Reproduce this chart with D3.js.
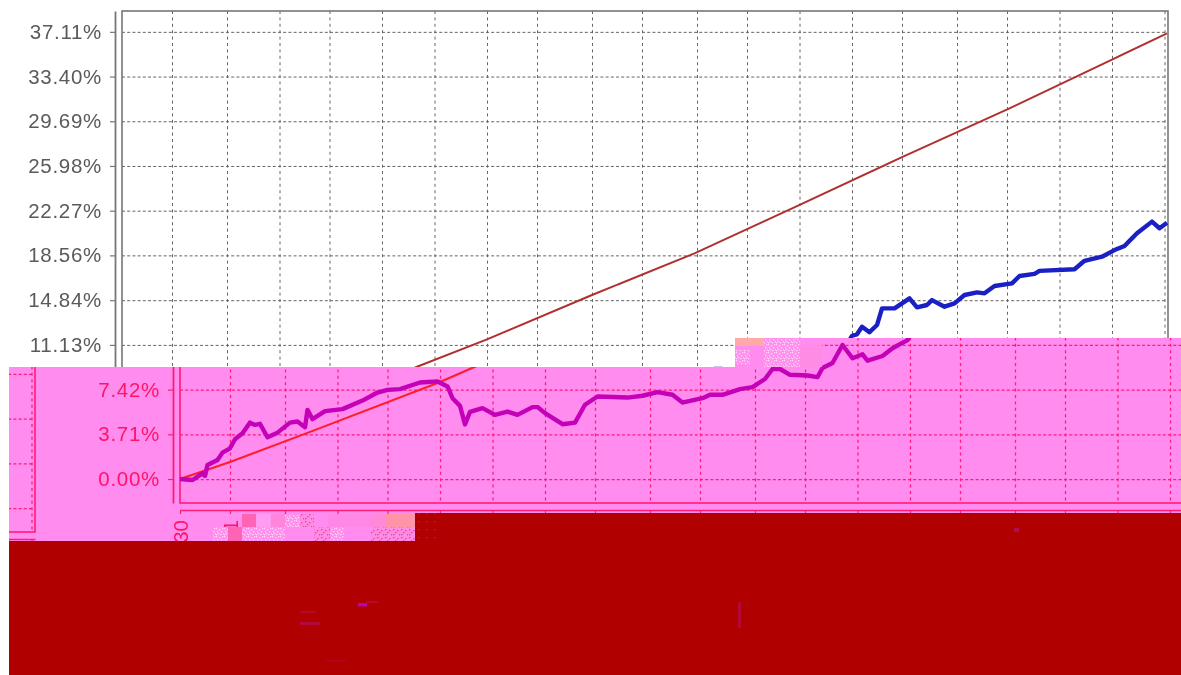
<!DOCTYPE html>
<html>
<head>
<meta charset="utf-8">
<script src="https://cdn.jsdelivr.net/npm/d3@7"></script>
<style>
html,body{margin:0;padding:0;background:#fff;overflow:hidden}
svg{display:block}
text{font-family:"Liberation Sans",Arial,sans-serif}
.soft{filter:blur(0.55px)}
</style>
</head>
<body>
<svg id="chart" width="1181" height="675"></svg>
<script>
// ---- data (trading-day index, cumulative return in %) ----
const portfolioDays = [0,5,9,10,11,15,17,20,22,25,28,30,32,35,39,44,47,50,51,53,58,65,73,79,83,88,96,103,107,109,112,114,116,121,126,131,135,141,143,146,153,158,162,167,179,185,191,197,201,209,212,217,224,229,234,237,240,244,251,255,257,261,265,269,273,275,281,285,291,292,294,296,299,302,304,309,315,318,322,324,329,333,337,342,345,349,356,359,365,367,381,385,392,397,401,406,412,415,418];
const portfolioReturn = [0,-0.08,0.47,0.25,1.16,1.58,2.19,2.55,3.30,3.80,4.68,4.49,4.58,3.47,3.85,4.68,4.77,4.30,5.74,4.97,5.63,5.80,6.51,7.18,7.40,7.46,8.01,8.10,7.68,6.71,6.07,4.53,5.57,5.88,5.32,5.60,5.32,5.97,5.97,5.47,4.55,4.68,6.16,6.85,6.76,6.91,7.21,6.99,6.35,6.71,6.99,6.99,7.46,7.63,8.30,9.13,9.13,8.65,8.59,8.46,9.21,9.63,11.12,10.02,10.35,9.82,10.21,10.85,11.53,11.89,12.01,12.64,12.18,12.78,14.16,14.16,14.99,14.25,14.44,14.85,14.30,14.58,15.27,15.49,15.41,16.02,16.24,16.85,17.02,17.27,17.41,18.11,18.45,19.00,19.34,20.39,21.36,20.81,21.27];
const benchmarkDays = [0,20,51,104,118,146,188,229,270,312,355,396,418];
const benchmarkReturn = [0,1.41,3.83,8.05,9.32,11.59,15.27,18.73,22.65,26.72,30.76,34.81,36.99];
const yTicks = [0,3.71,7.42,11.13,14.84,18.56,22.27,25.98,29.69,33.40,37.11];
const xTickDays = [0,20,42,63,83,104,125,146,166,188,208,230,250,271,292,312,334,354,375,396,417];
const xTickLabels = ["30","1"];

const svg = d3.select("#chart");
const x = d3.scaleLinear().domain([0,418.4]).range([122,1168]);
const y = d3.scaleLinear().domain([-1.99,38.84]).range([503,11]);

const normal = {axis:"#777", grid:"#666", gridW:1, text:"#5a5a5a", bench:"#b03030", main:"#1a20c4"};
const pinked = {axis:"#ff1c78", grid:"#ff1c78", gridW:1.25, text:"#ff1464", bench:"#ff1c2c", main:"#c400b8"};

function drawPlot(g, c, showY, showX) {
  // grid
  g.append("g").attr("transform","translate(122,0)")
    .call(d3.axisLeft(y).tickValues(yTicks).tickSize(-1043).tickFormat(""))
    .call(a=>a.select(".domain").remove())
    .selectAll("line").attr("stroke",c.grid).attr("stroke-width",c.gridW).attr("stroke-dasharray","3 2.2");
  g.append("g").attr("transform","translate(0,11)")
    .call(d3.axisBottom(x).tickValues(xTickDays.slice(1)).tickSize(492).tickFormat(""))
    .call(a=>a.select(".domain").remove())
    .selectAll("line").attr("stroke",c.grid).attr("stroke-width",c.gridW).attr("stroke-dasharray","3 3.4");
  // frame
  g.append("rect").attr("x",x(0)).attr("y",y.range()[1])
    .attr("width",x.range()[1]-x.range()[0]).attr("height",y.range()[0]-y.range()[1])
    .attr("fill","none").attr("stroke",c.axis).attr("stroke-width",1.6);
  // y axis: only the labels that can be seen in this layer get text
  const ya = g.append("g").attr("transform","translate(115,0)")
    .call(d3.axisLeft(y).tickValues(yTicks).tickSize(5).tickSizeOuter(0).tickPadding(8)
      .tickFormat(d=>showY(d)?d.toFixed(2)+"%":""));
  ya.select(".domain").attr("stroke",c.axis).attr("stroke-width",1.8);
  ya.selectAll("line").attr("stroke",c.axis).attr("stroke-width",1.2);
  ya.selectAll("text").attr("fill",c.text).style("font-size","20.5px").style("letter-spacing","0.7px");
  // x axis
  const xa = g.append("g").attr("transform","translate(0,510)")
    .call(d3.axisBottom(x).tickValues(xTickDays).tickSize(4).tickSizeOuter(0)
      .tickFormat((d,i)=>showX?(xTickLabels[i]||""):""));
  xa.select(".domain").attr("stroke",c.axis).attr("stroke-width",1.6);
  xa.selectAll("line").attr("stroke",c.axis).attr("stroke-width",1.2);
  xa.selectAll("text").attr("fill",c.text).style("font-size","20.5px")
    .attr("text-anchor","end").attr("x",0).attr("y",0).attr("dy","0.36em")
    .attr("transform","translate(0,10) rotate(-90)");
  // lines
  const line = d3.line().x(d=>x(d[0])).y(d=>y(d[1]));
  g.append("path").datum(d3.zip(benchmarkDays,benchmarkReturn)).attr("d",line)
    .attr("fill","none").attr("stroke",c.bench).attr("stroke-width",2);
  g.append("path").datum(d3.zip(portfolioDays,portfolioReturn)).attr("d",line)
    .attr("fill","none").attr("stroke",c.main).attr("stroke-width",4.4).attr("stroke-linejoin","round");
}

const defs = svg.append("defs");
const clipBand = defs.append("clipPath").attr("id","bandClip");
clipBand.append("rect").attr("x",36).attr("y",367).attr("width",1145).attr("height",174);
clipBand.append("rect").attr("x",735).attr("y",338).attr("width",446).attr("height",29);
defs.append("clipPath").attr("id","wrapClip").append("rect").attr("x",9).attr("y",367).attr("width",27.5).attr("height",174);

// speckle patterns for the damaged blocks
function speckle(id, bg, fg, dots) {
  const p = defs.append("pattern").attr("id",id).attr("patternUnits","userSpaceOnUse").attr("width",8).attr("height",8);
  p.append("rect").attr("width",8).attr("height",8).attr("fill",bg);
  dots.forEach(([a,b])=>p.append("rect").attr("x",a).attr("y",b).attr("width",1.4).attr("height",1.4).attr("fill",fg));
}
speckle("spkLight","#ff8cee","#ffd2f4",[[0,0],[3,1],[6,0],[1,3],[5,3],[2,5],[7,5],[0,6],[4,6]]);
speckle("spkHot","#ff8ce4","#ff3c90",[[1,1],[5,2],[3,4],[7,6],[1,6]]);
speckle("spkRed","#b00000","#d0104c",[[2,1]]);

// clean picture
svg.append("rect").attr("width",1181).attr("height",675).attr("fill","#fff");
drawPlot(svg.append("g").attr("class","soft"), normal, d=>d>=11, false);

// shifted pink band
const pink = "#ff8cee";
const band = svg.append("g").attr("clip-path","url(#bandClip)");
band.append("rect").attr("width",1181).attr("height",675).attr("fill",pink);
drawPlot(band.append("g").attr("class","soft").attr("transform","translate(58,0)"), pinked, d=>d<11, true);

const wrap = svg.append("g").attr("clip-path","url(#wrapClip)");
wrap.append("rect").attr("width",1181).attr("height",675).attr("fill",pink);
drawPlot(wrap.append("g").attr("class","soft").attr("transform","translate(-1133,29)"), pinked, d=>false, false);

// damaged blocks
function block(x0,y0,w,h,fill){ svg.append("rect").attr("x",x0).attr("y",y0).attr("width",w).attr("height",h).attr("fill",fill); }
// top patch
block(735,338,87,29,pink);
block(735,338,29,8,"#ffaaa8");
block(735,350,15,15,"url(#spkLight)");
block(764,338,36,29,"url(#spkLight)");
block(800,346,22,21,"#ff8ce4");
// strip under the x axis
block(213,527,15,14,"url(#spkLight)");
block(228,527,14,14,"#ff64b4");
block(242,527,43,14,"url(#spkLight)");
block(242,514,14,13,"#ff64b4");
block(256,514,15,13,"#ff9cf2");
block(271,514,14,13,"#ff84dc");
block(285,514,15,13,"url(#spkLight)");
block(300,514,14,13,"url(#spkHot)");
block(314,527,28,14,"url(#spkHot)");
block(328,514,43,13,"#ff88e6");
block(330,527,14,14,"url(#spkLight)");
block(371,514,14,13,"#ff88d8");
block(385,514,30,13,"#ff94a8");
block(371,527,44,14,"url(#spkHot)");
// dark red
block(9,541,1172,134,"#b00000");
block(415,513,766,28,"#b00000");
block(415,513,25,28,"url(#spkRed)");
// faint smears in the dark red
block(358,603,9,3.5,"#b808a0");
block(366,601,12,2,"#b40838");
block(300,611,16,2,"#b40830");
block(300,622,20,3,"#b40840");
block(326,660,20,1.5,"#b30420");
block(738,602,3,26,"#b40838");
block(1014,528,5,4,"#b40c50");
</script>
</body>
</html>
